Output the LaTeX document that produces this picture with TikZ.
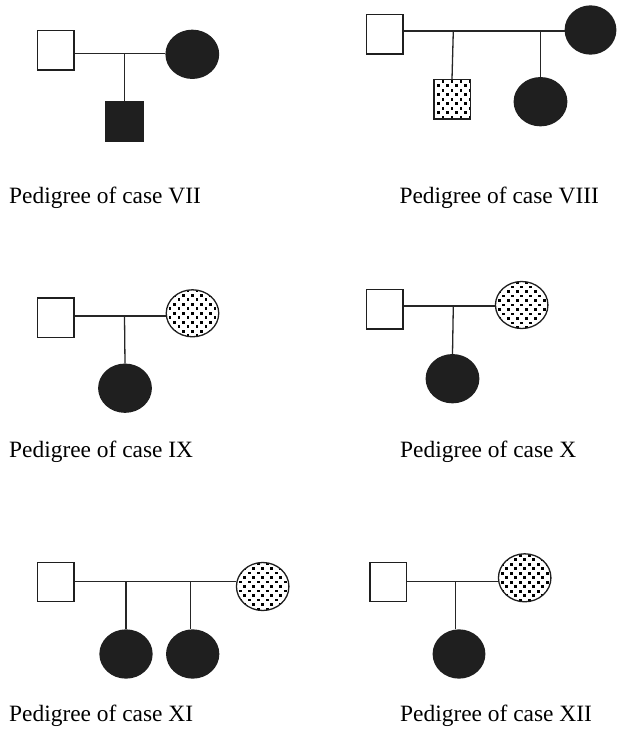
\documentclass[tikz,border=0pt]{standalone}
\usepackage{fontspec}
\setmainfont{Liberation Serif}
\usetikzlibrary{shapes.geometric,calc}
\tikzset{
  lw/.style={line width=1.3pt, draw=black!88},
  male/.style={lw, rectangle, minimum width=36.3pt, minimum height=39.3pt, inner sep=0pt},
  female/.style={lw, ellipse, minimum width=52.5pt, minimum height=48pt, inner sep=0pt},
  affected/.style={fill=black!88},
  carrier/.style={path picture={
    \foreach \j in {-7,...,7}{
      \foreach \i in {-4,...,4}{
        \fill[black, shift={(path picture bounding box.center)}]
          ({(9*\i+4.5*mod(\j+20,2)-1.4)*1pt},{(4.5*\j-1.4)*1pt}) rectangle +(2.8pt,2.8pt);
      }
    }
  }},
  link/.style={line width=1.3pt, draw=black!85},
  caption/.style={anchor=base west, inner sep=0pt, font=\fontsize{23.4}{28}\selectfont}
}
\begin{document}
\begin{tikzpicture}[x=1pt,y=-1pt]
\useasboundingbox (0,0) rectangle (616,731);
% ---------- case VII ----------
\node[male] (f7) at (55.8,50.3) {};
\node[female,affected] (m7) at (192.3,54.3) {};
\node[male,affected,minimum width=37pt,minimum height=40pt] (c7) at (124.5,121.7) {};
\coordinate (j7) at (124.5,53.7);
\draw[link] (f7.east|-j7) -- (m7.west|-j7);
\draw[link] (j7) -- (c7.north);
\node[caption] (t7) at (9,203.3) {Pedigree of case VII};
% ---------- case VIII ----------
\node[male] (f8) at (384.8,34.3) {};
\node[female,affected,minimum width=50.5pt] (m8) at (590.5,30) {};
\node[male,carrier] (c8a) at (452,99.3) {};
\node[female,affected] (c8b) at (540.5,101.7) {};
\coordinate (j8) at (453.3,31);
\coordinate (k8) at (540.5,31);
\draw[link] (f8.east|-j8) -- (m8.west|-j8);
\draw[link] (j8) -- (c8a.north);
\draw[link] (k8) -- (c8b.north);
\node[caption] (t8) at (399.3,203.3) {Pedigree of case VIII};
% ---------- case IX ----------
\node[male] (f9) at (55.8,317.7) {};
\node[female,carrier,minimum height=47pt] (m9) at (192.5,313.3) {};
\node[female,affected] (c9) at (125,388.2) {};
\coordinate (j9) at (124.5,316);
\draw[link] (f9.east|-j9) -- (m9.west|-j9);
\draw[link] (j9) -- (c9.north);
\node[caption] (t9) at (9,457) {Pedigree of case IX};
% ---------- case X ----------
\node[male] (f10) at (384.8,309.3) {};
\node[female,carrier,minimum height=47pt] (m10) at (521.7,305) {};
\node[female,affected] (c10) at (452.5,378.7) {};
\coordinate (j10) at (453.3,306);
\draw[link] (f10.east|-j10) -- (m10.west|-j10);
\draw[link] (j10) -- (c10.north);
\node[caption] (t10) at (400,457) {Pedigree of case X};
% ---------- case XI ----------
\node[male] (f11) at (55.8,582) {};
\node[female,carrier] (m11) at (262.7,586.5) {};
\node[female,affected,minimum width=52pt] (c11a) at (126,654) {};
\node[female,affected,minimum width=52pt] (c11b) at (192.7,654) {};
\coordinate (j11) at (126,581.7);
\coordinate (k11) at (190.5,581.7);
\draw[link] (f11.east|-j11) -- (m11.west|-j11);
\draw[link] (j11) -- (c11a.north);
\draw[link] (k11) -- (c11b.north-|k11);
\node[caption] (t11) at (9,721.5) {Pedigree of case XI};
% ---------- case XII ----------
\node[male] (f12) at (388.2,582) {};
\node[female,carrier] (m12) at (524.7,577.8) {};
\node[female,affected,minimum width=51.5pt] (c12) at (459,654) {};
\coordinate (j12) at (455.5,581.7);
\draw[link] (f12.east|-j12) -- (m12.west|-j12);
\draw[link] (j12) -- (c12.north-|j12);
\node[caption] (t12) at (400,721.5) {Pedigree of case XII};
\end{tikzpicture}
\end{document}
